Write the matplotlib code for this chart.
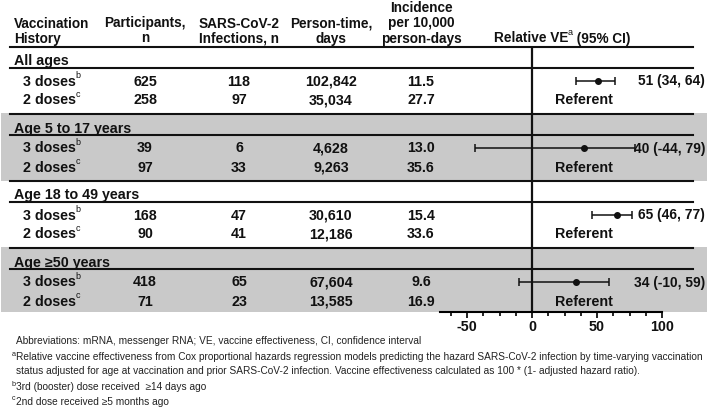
import numpy as np
import matplotlib as mpl

mpl.use("Agg")
from matplotlib import pyplot as plt
from matplotlib.ticker import FixedLocator, MultipleLocator

plt.rcParams['font.family'] = ['Liberation Sans', 'DejaVu Sans']
plt.rcParams['axes.unicode_minus'] = False

# table data
groups = ['All ages', 'Age 5 to 17 years', 'Age 18 to 49 years', 'Age \u226550 years']
rows = ['3 doses', '2 doses']
row_sup = ['b', 'c']
participants_3 = [625, 39, 168, 418]
participants_2 = [258, 97, 90, 71]
infections_3 = [118, 6, 47, 65]
infections_2 = [97, 33, 41, 23]
persontime_3 = [102842, 4628, 30610, 67604]
persontime_2 = [35034, 9263, 12186, 13585]
incidence_3 = [11.5, 13.0, 15.4, 9.6]
incidence_2 = [27.7, 35.6, 33.6, 16.9]

# relative VE (3 vs 2 doses)
ve = [51, 40, 65, 34]
ve_lo = [34, -44, 46, -10]
ve_hi = [64, 79, 77, 59]

xticks = [-50, 0, 50, 100]
xtick_labels = ['-50', '0', '50', '100']

footnotes = [
    ('', 'Abbreviations: mRNA, messenger RNA; VE, vaccine effectiveness, CI, confidence interval'),
    ('a', 'Relative vaccine effectiveness from Cox proportional hazards regression models predicting the hazard SARS-CoV-2 infection by time-varying vaccination'),
    ('', 'status adjusted for age at vaccination and prior SARS-CoV-2 infection. Vaccine effectiveness calculated as 100 * (1- adjusted hazard ratio).'),
    ('b', '3rd (booster) dose received  \u226514 days ago'),
    ('c', '2nd dose received \u22655 months ago'),
]

# layout (pixels)
W, H = 709, 408
col_x = [145, 239, 331, 421]
top0 = 47
group_h = 67
axis_y = 312
gray = '#c9c9c9'
ink = '#111111'
fs_head = 9.8
fs_body = 10.3

fig = plt.figure(figsize=(W / 100, H / 100), dpi=100)
ax = fig.add_axes([0, 0, 1, 1])
ax.set_xlim(0, W)
ax.set_ylim(H, 0)
ax.axis('off')


def txt(x, y, s, ha='center', size=fs_body, weight='bold', **kw):
    return ax.text(x, y + 1.5, s, ha=ha, va='center', fontsize=size, fontweight=weight, color=ink, **kw)


def sup(t, s, size=6.5):
    return ax.annotate(s, xy=(1, 0.95), xycoords=t, xytext=(-0.3, 0), textcoords='offset points',
                       ha='left', va='center', fontsize=size, color=ink)


# header
txt(14, 22, 'Vaccination', ha='left', size=fs_head)
txt(14, 37, 'History', ha='left', size=fs_head)
txt(col_x[0], 22, 'Participants,', size=fs_head)
txt(col_x[0], 37, 'n', size=fs_head)
txt(col_x[1], 22, 'SARS-CoV-2', size=fs_head)
txt(col_x[1], 37, 'Infections, n', size=fs_head)
txt(col_x[2], 22, 'Person-time,', size=fs_head)
txt(col_x[2], 37, 'days', size=fs_head)
txt(col_x[3], 7, 'Incidence', size=fs_head)
txt(col_x[3], 22, 'per 10,000', size=fs_head)
txt(col_x[3], 37, 'person-days', size=fs_head)
t1 = txt(494, 37, 'Relative VE', ha='left', size=fs_head)
s1 = sup(t1, 'a')
ax.annotate(' (95% CI)', xy=(1, 0), xycoords=(s1, t1), ha='left', va='bottom',
            fontsize=fs_head, fontweight='bold', color=ink)

tops = top0 + group_h * np.arange(len(groups))
for i, g in enumerate(groups):
    top = tops[i]
    if i % 2 == 1:
        ax.axhspan(top - 1, top + group_h - (0 if i < 3 else 3), xmin=1 / W, xmax=707 / W,
                   color=gray, lw=0, zorder=0)
    ax.plot([10, 693], [top, top], color=ink, lw=1.5)
    ax.plot([10, 693], [top + 21, top + 21], color=ink, lw=1.5)
    txt(14, top + 13, g, ha='left')
    vals = [
        (participants_3[i], infections_3[i], f'{persontime_3[i]:,}', f'{incidence_3[i]:.1f}'),
        (participants_2[i], infections_2[i], f'{persontime_2[i]:,}', f'{incidence_2[i]:.1f}'),
    ]
    for j, r in enumerate(rows):
        y = top + 33 + 19 * j
        t = txt(23, y, r, ha='left')
        sup(t, row_sup[j])
        for k, v in enumerate(vals[j]):
            txt(col_x[k], y, str(v))
    txt(705, top + 33, f'{ve[i]} ({ve_lo[i]}, {ve_hi[i]})', ha='right', size=9.9)
    txt(555, top + 52, 'Referent', ha='left')

# forest plot axes
x0_px, x1_px = 440, 662
fax = fig.add_axes([x0_px / W, (H - axis_y) / H, (x1_px - x0_px) / W, (axis_y - top0) / H])
fax.patch.set_alpha(0)
fax.set_xlim(-70.8, 100)
fax.set_ylim(axis_y, top0)
for sp in ['top', 'left', 'right']:
    fax.spines[sp].set_visible(False)
fax.spines['bottom'].set_linewidth(1.5)
fax.axvline(0, color=ink, lw=1.6)
ve_a = np.array(ve)
fax.errorbar(ve_a, tops + 34, xerr=[ve_a - np.array(ve_lo), np.array(ve_hi) - ve_a],
             fmt='o', color=ink, ms=4, elinewidth=1.1, capsize=3, capthick=1.1)
fax.set_yticks([])
fax.xaxis.set_major_locator(FixedLocator(xticks))
fax.set_xticklabels(xtick_labels, fontsize=fs_body, fontweight='bold')
fax.xaxis.set_minor_locator(MultipleLocator(12.5))
fax.tick_params(axis='x', which='major', length=4.5, width=1.3, pad=1, colors=ink)
fax.tick_params(axis='x', which='minor', length=2.8, width=1.2)

# footnotes
foot_y = [341, 357, 371, 387, 402]
for (s, line), y in zip(footnotes, foot_y):
    ax.text(16, y, line, ha='left', va='center', fontsize=7.3, color='#222222')
    if s:
        ax.text(12, y - 3, s, ha='left', va='center', fontsize=5.2, color='#222222')

fig.savefig('out.png', dpi=100)
